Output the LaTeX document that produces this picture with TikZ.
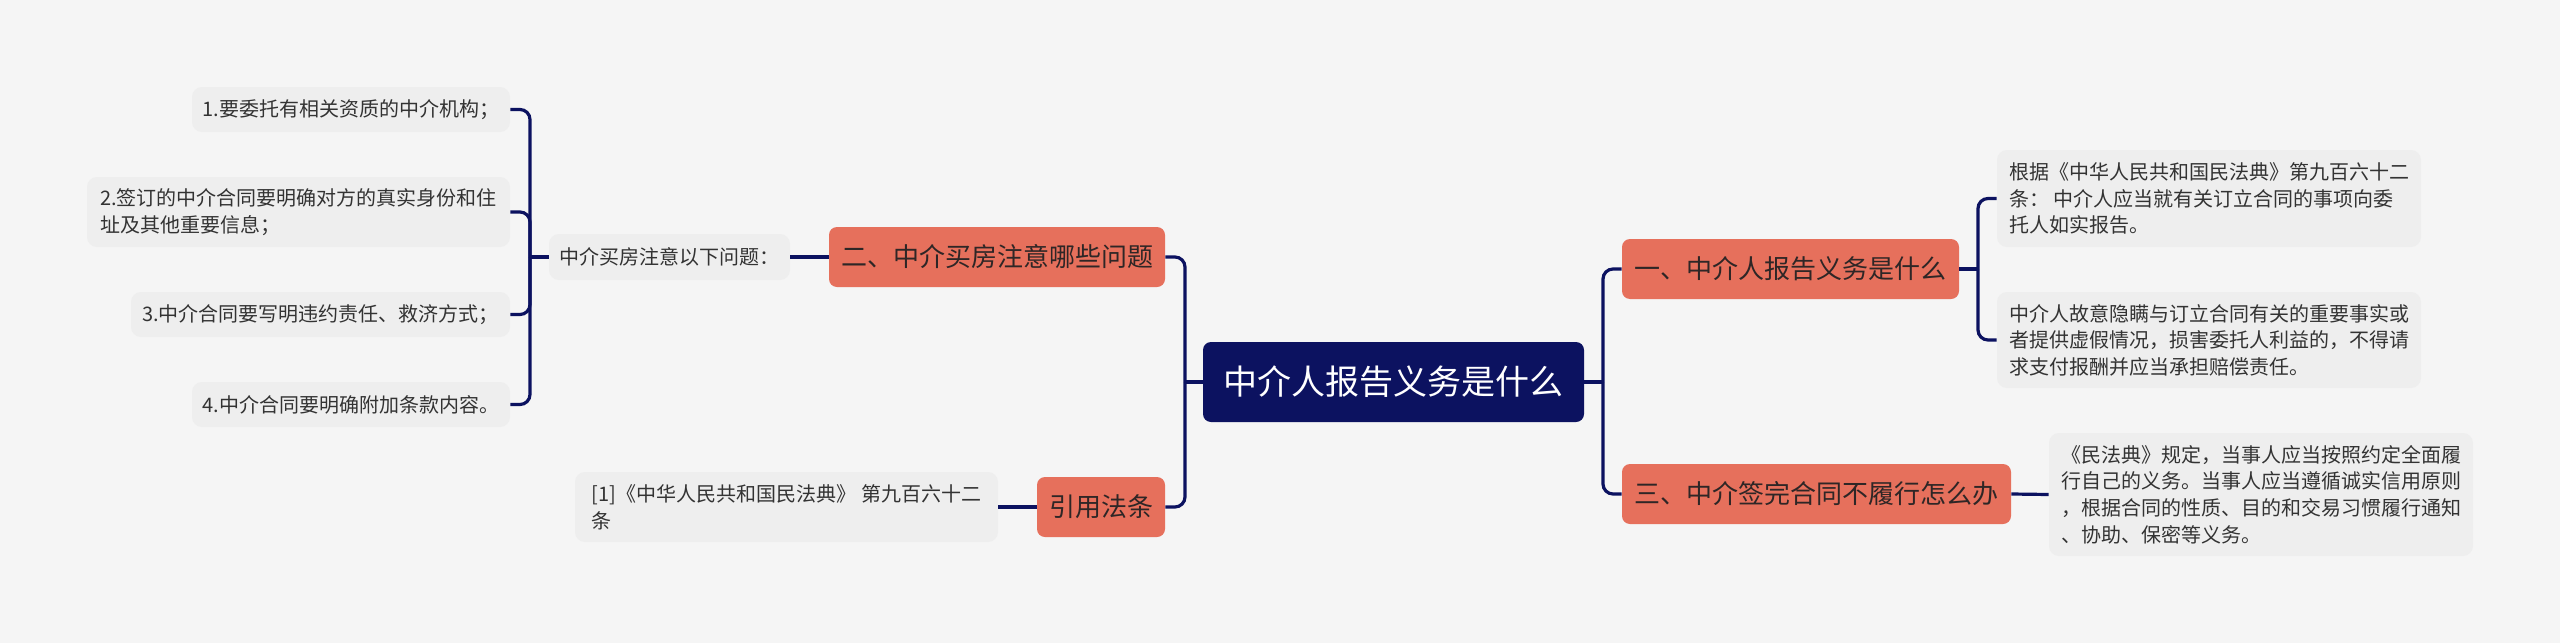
\documentclass[tikz,border=0pt]{standalone}
\usepackage{fontspec}
\usepackage{tikz}
\newfontfamily\cjk{Noto Sans CJK SC}
\definecolor{bgcol}{HTML}{F5F5F5}
\definecolor{navy}{HTML}{0C1260}
\definecolor{coral}{HTML}{E6705C}
\definecolor{topictext}{HTML}{2E2626}
\definecolor{leafbg}{HTML}{EEEEEE}
\definecolor{leaftext}{HTML}{333333}

\begin{document}
\begin{tikzpicture}[
    x=0.5pt,
    y=-0.5pt,
    every node/.style={font=\cjk},
    root/.style={fill=navy, text=white, rounded corners=4pt, inner sep=0pt,
      minimum width=190.5pt, minimum height=40pt, font=\cjk\fontsize{17}{20}\selectfont},
    topic/.style={fill=coral, text=topictext, rounded corners=4pt, inner sep=0pt,
      minimum height=30pt, font=\cjk\fontsize{13}{16}\selectfont},
    leaf/.style={fill=leafbg, text=leaftext, rounded corners=5pt, inner sep=0pt,
      align=left, font=\cjk\fontsize{10}{13.3}\selectfont},
    link/.style={draw=navy, line width=1.6pt, rounded corners=5pt}
  ]
    \fill[bgcol] (0,0) rectangle (2560,643);
    \useasboundingbox (0,0) rectangle (2560,643);

    \node[root] (root) at (1393.5,382) {中介人报告义务是什么};

    \node[topic, minimum width=168pt] (er) at (997,257) {二、中介买房注意哪些问题};
    \node[topic, minimum width=64pt] (yy) at (1101,507) {引用法条};
    \node[topic, minimum width=168.5pt] (yi) at (1790.5,269) {一、中介人报告义务是什么};
    \node[topic, minimum width=194.5pt] (san) at (1816.5,494) {三、中介签完合同不履行怎么办};

    \node[leaf, minimum width=120.5pt, minimum height=23pt] (wenti) at (669.5,257) {中介买房注意以下问题：};
    \node[leaf, minimum width=159pt, minimum height=22.5pt] (l1) at (351,109.5) {1.要委托有相关资质的中介机构；};
    \node[leaf, minimum width=211.5pt, minimum height=35pt] (l2) at (298.5,212) {2.签订的中介合同要明确对方的真实身份和住\\址及其他重要信息；};
    \node[leaf, minimum width=189.5pt, minimum height=22.5pt] (l3) at (320.5,314.5) {3.中介合同要写明违约责任、救济方式；};
    \node[leaf, minimum width=159pt, minimum height=22.5pt] (l4) at (351,404.5) {4.中介合同要明确附加条款内容。};
    \node[leaf, minimum width=211.5pt, minimum height=35pt] (cite) at (786.5,507) {[1]《中华人民共和国民法典》 第九百六十二\\条};

    \node[leaf, minimum width=212pt, minimum height=48.5pt] (gen) at (2209,198.5) {根据《中华人民共和国民法典》第九百六十二\\条： 中介人应当就有关订立合同的事项向委\\托人如实报告。};
    \node[leaf, minimum width=212pt, minimum height=48pt] (guyi) at (2209,340) {中介人故意隐瞒与订立合同有关的重要事实或\\者提供虚假情况，损害委托人利益的，不得请\\求支付报酬并应当承担赔偿责任。};
    \node[leaf, minimum width=212pt, minimum height=61.5pt] (minfa) at (2261,494.5) {《民法典》规定，当事人应当按照约定全面履\\行自己的义务。当事人应当遵循诚实信用原则\\，根据合同的性质、目的和交易习惯履行通知\\、协助、保密等义务。};

    \coordinate (lt) at (1185,382);
    \coordinate (rt) at (1603,382);
    \coordinate (lb) at (530,257);
    \coordinate (rb) at (1978,269);

    \draw[link] (root.west) -- (lt);
    \draw[link] (lt) |- (er.east);
    \draw[link] (lt) |- (yy.east);
    \draw[link] (root.east) -- (rt);
    \draw[link] (rt) |- (yi.west);
    \draw[link] (rt) |- (san.west);

    \draw[link] (er.west) -- (wenti.east);
    \draw[link] (wenti.west) -- (lb);
    \draw[link] (lb) |- (l1.east);
    \draw[link] (lb) |- (l2.east);
    \draw[link] (lb) |- (l3.east);
    \draw[link] (lb) |- (l4.east);
    \draw[link] (yy.west) -- (cite.east);

    \draw[link] (yi.east) -- (rb);
    \draw[link] (rb) |- (gen.west);
    \draw[link] (rb) |- (guyi.west);
    \draw[link] (san.east) -- (minfa.west);
  \end{tikzpicture}
\end{document}
